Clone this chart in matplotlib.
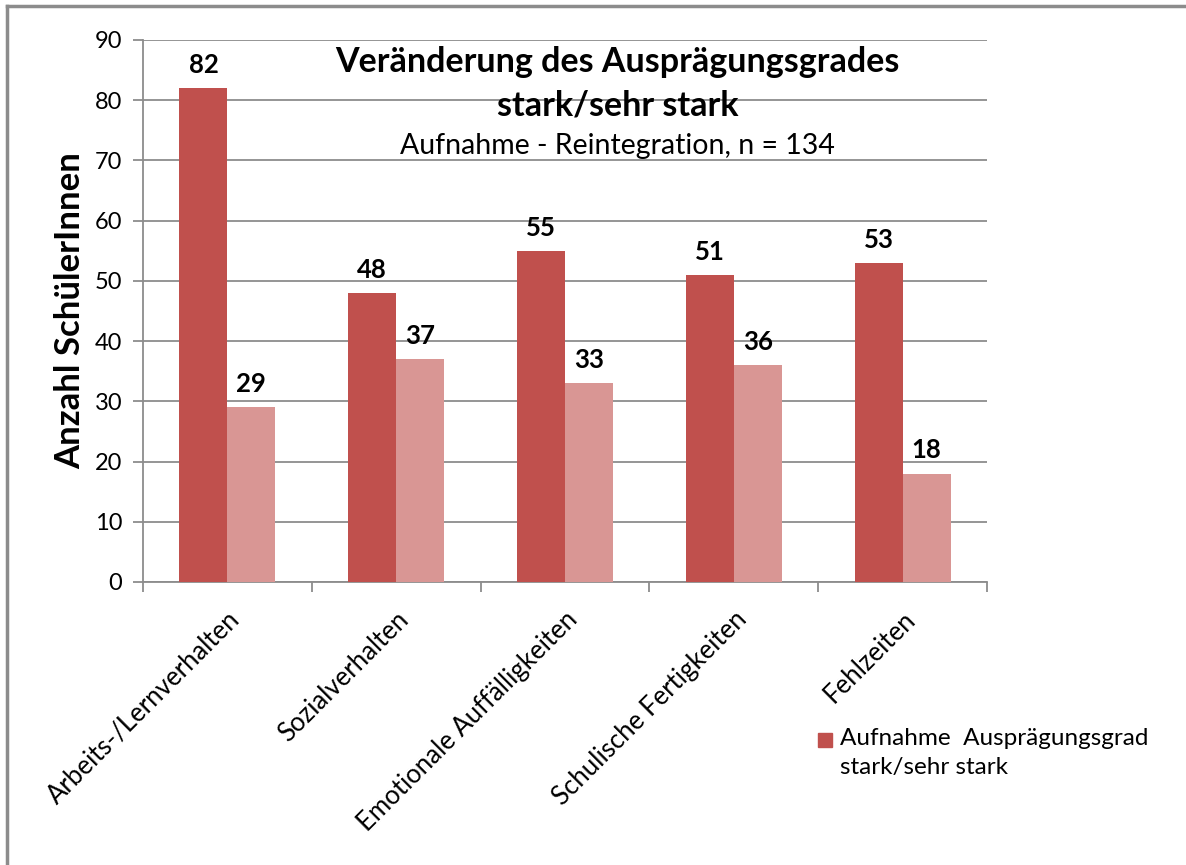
import numpy as np
import matplotlib
matplotlib.use('Agg')
import matplotlib.pyplot as plt
from matplotlib.lines import Line2D
from matplotlib.patches import Rectangle

plt.rcParams['font.family'] = ['Lato', 'DejaVu Sans']

# data
categories = ['Arbeits-/Lernverhalten', 'Sozialverhalten', 'Emotionale Auffälligkeiten',
              'Schulische Fertigkeiten', 'Fehlzeiten']
aufnahme = [82, 48, 55, 51, 53]
reintegration = [29, 37, 33, 36, 18]
legend_label = 'Aufnahme  Ausprägungsgrad\nstark/sehr stark'

dark = '#C0504D'
light = '#D99694'
grid_col = '#8C8C8C'

fig = plt.figure(figsize=(11.86, 8.65), dpi=100)
ax = fig.add_axes([0.1206, 0.3272, 0.7116, 0.6266])

x = np.arange(len(categories))
w = 0.284
b1 = ax.bar(x - w / 2, aufnahme, w, color=dark, zorder=3)
b2 = ax.bar(x + w / 2, reintegration, w, color=light, zorder=3)

# value labels
for bars in (b1, b2):
    for r in bars:
        ax.annotate(str(int(r.get_height())), (r.get_x() + r.get_width() / 2, r.get_height()),
                    xytext=(0, 8), textcoords='offset points',
                    ha='center', va='bottom', fontsize=18.5, fontweight='bold')

ax.set_xlim(-0.5, len(categories) - 0.5)
ax.set_ylim(0, 90)
ax.set_yticks(range(0, 91, 10))
ax.yaxis.grid(True, color=grid_col, linewidth=1.3, zorder=0)
ax.set_axisbelow(True)

# ticks at group boundaries
ax.set_xticks(np.arange(-0.5, len(categories), 1.0))
ax.set_xticklabels([])
ax.set_xticks(x, minor=True)
ax.set_xticklabels(categories, minor=True, rotation=45, ha='right', va='top',
                   rotation_mode='anchor', fontsize=18.5)
ax.tick_params(axis='x', which='minor', length=0, pad=18)
ax.tick_params(axis='x', which='major', length=7, color=grid_col, width=1.3)
ax.tick_params(axis='y', length=7, color=grid_col, width=1.3, labelsize=17, pad=8)

for s in ('top', 'right'):
    ax.spines[s].set_visible(False)
for s in ('left', 'bottom'):
    ax.spines[s].set_color(grid_col)
    ax.spines[s].set_linewidth(1.3)

ax.set_ylabel('Anzahl SchülerInnen', fontsize=25, fontweight='bold', labelpad=6)

# title block
ax.text(0.562, 0.96, 'Veränderung des Ausprägungsgrades', transform=ax.transAxes,
        ha='center', va='center', fontsize=24.5, fontweight='bold')
ax.text(0.562, 0.88, 'stark/sehr stark', transform=ax.transAxes,
        ha='center', va='center', fontsize=24.5, fontweight='bold')
ax.text(0.562, 0.805, 'Aufnahme - Reintegration, n = 134', transform=ax.transAxes,
        ha='center', va='center', fontsize=20.5)

# legend (only the first series is shown)
fig.add_artist(Rectangle((0.6897, 0.1364), 0.0118, 0.0162, color=dark,
                         transform=fig.transFigure))
fig.text(0.708, 0.158, legend_label, ha='left', va='top', fontsize=17.5,
         linespacing=1.45, transform=fig.transFigure)

# outer frame (left and top edges visible)
fig.add_artist(Line2D([0.0059, 0.0059], [0, 0.9936], color=grid_col, lw=2.5,
                      transform=fig.transFigure))
fig.add_artist(Line2D([0.0059, 1], [0.9936, 0.9936], color=grid_col, lw=2.5,
                      transform=fig.transFigure))

fig.savefig('out.png', dpi=100)
